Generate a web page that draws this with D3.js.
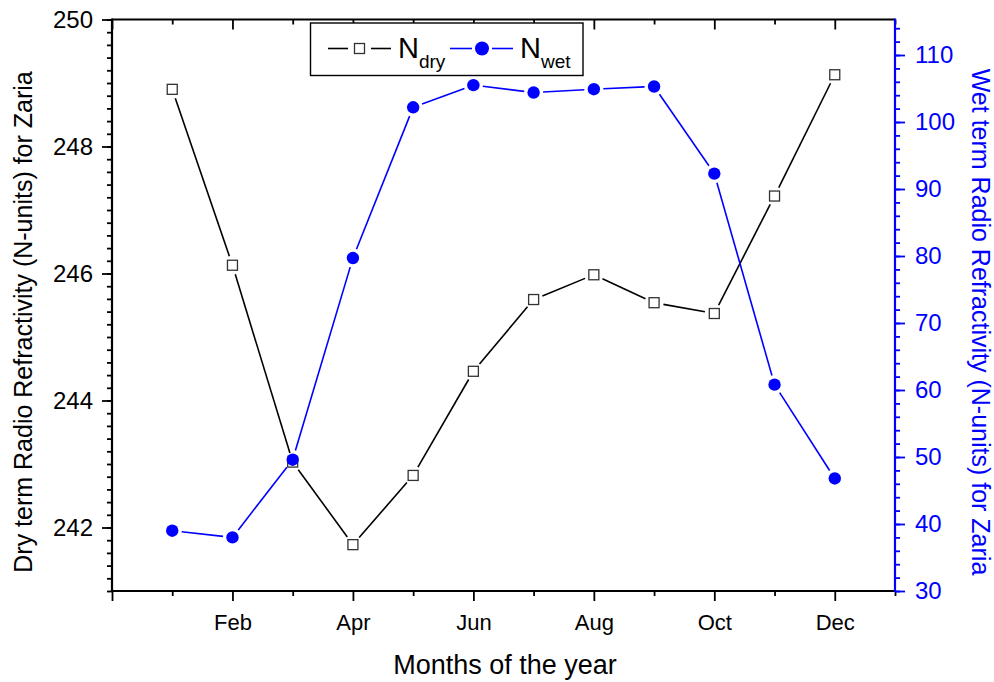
<!DOCTYPE html>
<html>
<head>
<meta charset="utf-8">
<script src="https://cdn.jsdelivr.net/npm/d3@7"></script>
<style>
  html, body { margin: 0; padding: 0; background: #fff; }
  svg { display: block; font-family: "Liberation Sans", Arial, Helvetica, sans-serif; }
</style>
</head>
<body>
<svg id="chart" width="994" height="682"></svg>
<script>
// ---- data ----
const months = ["Jan","Feb","Mar","Apr","May","Jun","Jul","Aug","Sep","Oct","Nov","Dec"];
const dryValues = [248.90, 246.13, 243.03, 241.73, 242.82, 244.46, 245.59, 245.98, 245.54, 245.37, 247.22, 249.13];
const wetValues = [39.0, 38.0, 49.6, 79.7, 102.2, 105.5, 104.4, 104.9, 105.3, 92.3, 60.8, 46.8];
const xMajorTicks = [0, 2, 4, 6, 8, 10, 12];
const xTickLabels = ["", "Feb", "Apr", "Jun", "Aug", "Oct", "Dec"];
const leftTicks = [242, 244, 246, 248, 250];
const rightTicks = [30, 40, 50, 60, 70, 80, 90, 100, 110];
const seriesNames = ["dry", "wet"];

// ---- layout ----
const L = 112, R = 895, T = 19.5, B = 591;
const BLUE = "#0000FF";
const FONT = "Liberation Sans, Arial, sans-serif";
const svg = d3.select("#chart");

const x = d3.scaleLinear().domain([0, 13]).range([L, R]);
const yL = d3.scaleLinear().domain([241, 250]).range([B, T]);
const yR = d3.scaleLinear().domain([30, 115.3]).range([B, T]);

const xMinor = d3.range(1, 14, 2);
const yLMinor = d3.range(241, 250.001, 0.2);
const yRMinor = d3.range(30, 115, 2);

function styleAxis(g, color, width) {
  g.select(".domain").remove();
  g.selectAll(".tick line").attr("stroke", color).attr("stroke-width", width);
  g.selectAll(".tick text").attr("fill", color).attr("font-family", FONT);
}

// Bottom axis
const gB = svg.append("g").attr("transform", `translate(0,${B})`);
gB.append("g").call(d3.axisBottom(x).tickValues(xMinor).tickSize(5).tickFormat(""))
  .call(g => styleAxis(g, "#000", 1.8));
gB.append("g").call(d3.axisBottom(x).tickValues(xMajorTicks).tickSize(10).tickPadding(13)
    .tickFormat((d, i) => xTickLabels[i]))
  .call(g => styleAxis(g, "#000", 1.8))
  .call(g => g.selectAll(".tick text").attr("font-size", 22));

// Top axis (inward ticks)
const gT = svg.append("g").attr("transform", `translate(0,${T})`);
gT.append("g").call(d3.axisTop(x).tickValues(xMinor).tickSize(-5).tickFormat(""))
  .call(g => styleAxis(g, "#000", 1.8));
gT.append("g").call(d3.axisTop(x).tickValues(xMajorTicks).tickSize(-10).tickFormat(""))
  .call(g => styleAxis(g, "#000", 1.8));

// Left axis
const gL = svg.append("g").attr("transform", `translate(${L},0)`);
gL.append("g").call(d3.axisLeft(yL).tickValues(yLMinor).tickSize(5).tickFormat(""))
  .call(g => styleAxis(g, "#000", 1.8));
gL.append("g").call(d3.axisLeft(yL).tickValues(leftTicks).tickSize(10).tickPadding(9).tickFormat(d3.format("d")))
  .call(g => styleAxis(g, "#000", 1.8))
  .call(g => g.selectAll(".tick text").attr("font-size", 24));

// Right axis
const gR = svg.append("g").attr("transform", `translate(${R},0)`);
gR.append("g").call(d3.axisRight(yR).tickValues(yRMinor).tickSize(5).tickFormat(""))
  .call(g => styleAxis(g, BLUE, 1.8));
gR.append("g").call(d3.axisRight(yR).tickValues(rightTicks).tickSize(10).tickPadding(10).tickFormat(d3.format("d")))
  .call(g => styleAxis(g, BLUE, 1.8))
  .call(g => g.selectAll(".tick text").attr("font-size", 24));

// Frame lines
svg.append("line").attr("x1", L).attr("x2", R).attr("y1", T).attr("y2", T).attr("stroke", "#000").attr("stroke-width", 2);
svg.append("line").attr("x1", L).attr("x2", R).attr("y1", B).attr("y2", B).attr("stroke", "#000").attr("stroke-width", 2.2);
svg.append("line").attr("x1", L).attr("x2", L).attr("y1", T - 1).attr("y2", B + 1).attr("stroke", "#000").attr("stroke-width", 2.2);
svg.append("line").attr("x1", R).attr("x2", R).attr("y1", T - 1).attr("y2", B + 1).attr("stroke", BLUE).attr("stroke-width", 2.2);

// Gapped line segments helper
function gappedSegments(pts, gap) {
  const segs = [];
  for (let i = 0; i < pts.length - 1; i++) {
    const [x1, y1] = pts[i], [x2, y2] = pts[i + 1];
    const dx = x2 - x1, dy = y2 - y1, len = Math.hypot(dx, dy);
    if (len <= 2 * gap) continue;
    const ux = dx / len, uy = dy / len;
    segs.push([x1 + ux * gap, y1 + uy * gap, x2 - ux * gap, y2 - uy * gap]);
  }
  return segs;
}

// Dry series
const dryPts = dryValues.map((v, i) => [x(i + 1), yL(v)]);
svg.append("g").selectAll("line").data(gappedSegments(dryPts, 9.5)).join("line")
  .attr("x1", d => d[0]).attr("y1", d => d[1]).attr("x2", d => d[2]).attr("y2", d => d[3])
  .attr("stroke", "#000").attr("stroke-width", 1.6);
svg.append("g").selectAll("rect").data(dryPts).join("rect")
  .attr("x", d => d[0] - 5).attr("y", d => d[1] - 5).attr("width", 10).attr("height", 10)
  .attr("fill", "#fff").attr("stroke", "#333").attr("stroke-width", 1.3);

// Wet series
const wetPts = wetValues.map((v, i) => [x(i + 1), yR(v)]);
svg.append("g").selectAll("line").data(gappedSegments(wetPts, 9.5)).join("line")
  .attr("x1", d => d[0]).attr("y1", d => d[1]).attr("x2", d => d[2]).attr("y2", d => d[3])
  .attr("stroke", BLUE).attr("stroke-width", 1.6);
svg.append("g").selectAll("circle").data(wetPts).join("circle")
  .attr("cx", d => d[0]).attr("cy", d => d[1]).attr("r", 6.2).attr("fill", BLUE);

// Axis titles
svg.append("text").attr("x", 505).attr("y", 674).attr("text-anchor", "middle")
  .attr("font-size", 27).attr("fill", "#000").text("Months of the year");
svg.append("text").attr("transform", "translate(32,322) rotate(-90)").attr("text-anchor", "middle")
  .attr("font-size", 25).attr("fill", "#000").text("Dry term Radio Refractivity (N-units) for Zaria");
svg.append("text").attr("transform", "translate(972,322) rotate(90)").attr("text-anchor", "middle")
  .attr("font-size", 25).attr("fill", BLUE).text("Wet term Radio Refractivity (N-units) for Zaria");

// Legend
const lg = svg.append("g");
lg.append("rect").attr("x", 310.5).attr("y", 23).attr("width", 272.5).attr("height", 52.5)
  .attr("fill", "#fff").attr("stroke", "#000").attr("stroke-width", 1.4);
const ly = 48.5;
// dry entry
lg.append("line").attr("x1", 328).attr("x2", 348).attr("y1", ly).attr("y2", ly).attr("stroke", "#000").attr("stroke-width", 1.6);
lg.append("line").attr("x1", 371).attr("x2", 391).attr("y1", ly).attr("y2", ly).attr("stroke", "#000").attr("stroke-width", 1.6);
lg.append("rect").attr("x", 354.5).attr("y", ly - 5).attr("width", 10).attr("height", 10)
  .attr("fill", "#fff").attr("stroke", "#333").attr("stroke-width", 1.3);
const t1 = lg.append("text").attr("x", 398).attr("y", 58).attr("font-size", 29).attr("fill", "#000");
t1.append("tspan").text("N");
t1.append("tspan").attr("font-size", 19).attr("dy", 10).text(seriesNames[0]);
// wet entry
lg.append("line").attr("x1", 450).attr("x2", 472).attr("y1", ly).attr("y2", ly).attr("stroke", BLUE).attr("stroke-width", 1.6);
lg.append("line").attr("x1", 492).attr("x2", 513).attr("y1", ly).attr("y2", ly).attr("stroke", BLUE).attr("stroke-width", 1.6);
lg.append("circle").attr("cx", 482).attr("cy", ly).attr("r", 7).attr("fill", BLUE);
const t2 = lg.append("text").attr("x", 520).attr("y", 58).attr("font-size", 29).attr("fill", "#000");
t2.append("tspan").text("N");
t2.append("tspan").attr("font-size", 19).attr("dy", 10).text(seriesNames[1]);
</script>
</body>
</html>
